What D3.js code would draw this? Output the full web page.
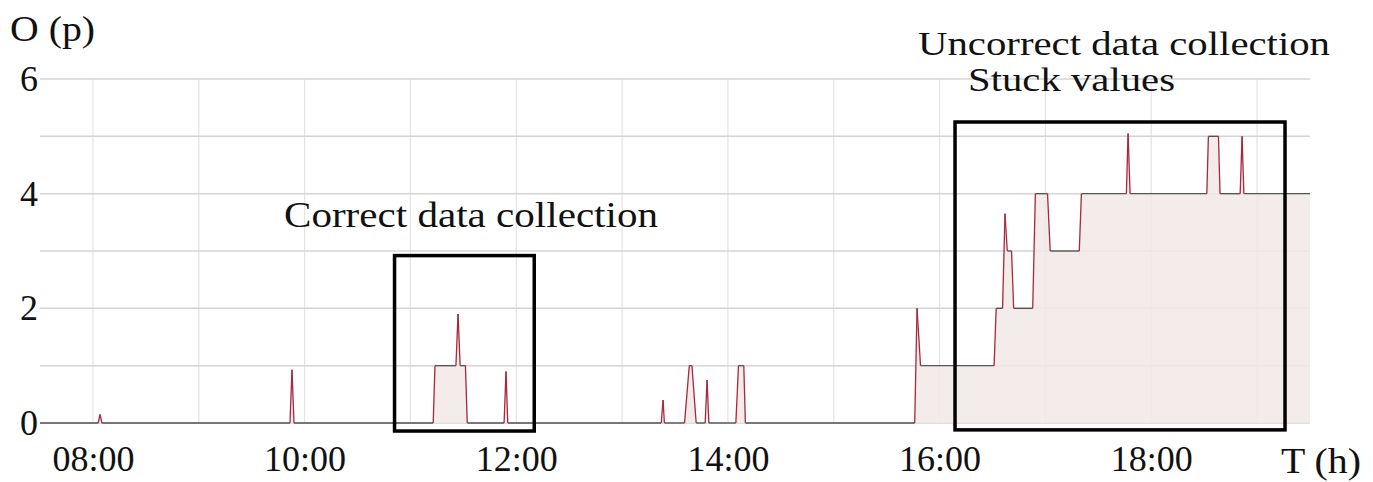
<!DOCTYPE html>
<html>
<head>
<meta charset="utf-8">
<script src="https://cdn.jsdelivr.net/npm/d3@7"></script>
<style>
  html, body { margin: 0; padding: 0; background: #ffffff; }
  svg { display: block; }
  text { font-family: "Liberation Serif", "Times New Roman", serif; fill: #111; }
</style>
</head>
<body>
<svg id="chart" width="1373" height="482"></svg>
<script>
// ---- data (time in decimal hours, value = occupancy in persons) ----
const hours = [7.5, 8.05, 8.067, 8.085, 9.862, 9.881, 9.9, 11.215, 11.232, 11.43, 11.45, 11.47, 11.52, 11.537,
  11.885, 11.903, 11.92, 13.37, 13.387, 13.40, 13.59, 13.635, 13.66, 13.70, 13.785, 13.803, 13.82,
  14.075, 14.10, 14.15, 14.165, 15.765, 15.787, 15.82, 16.515, 16.535, 16.595, 16.618, 16.64, 16.68, 16.70,
  16.88, 16.905, 17.02, 17.045, 17.32, 17.34, 17.765, 17.781, 17.80, 18.525, 18.54, 18.635, 18.65,
  18.84, 18.858, 18.875, 19.5];
const occupancy = [0, 0, 0.15, 0, 0, 0.93, 0, 0, 1, 1, 1.9, 1, 1, 0,
  0, 0.9, 0, 0, 0.4, 0, 0, 1, 1, 0, 0, 0.75, 0,
  0, 1, 1, 0, 0, 2, 1, 1, 2, 2, 3.65, 3, 3, 2,
  2, 4, 4, 3, 3, 4, 4, 5.05, 4, 4, 5, 5, 4,
  4, 5, 4, 4];

const xTickValues = [8, 10, 12, 14, 16, 18];
const xTickLabels = ["08:00", "10:00", "12:00", "14:00", "16:00", "18:00"];
const yTickValues = [0, 2, 4, 6];
const yTickLabels = ["0", "2", "4", "6"];

const boxCorrect = { t0: 10.85, t1: 12.17, v0: -0.14, v1: 2.92 };
const boxStuck = { t0: 16.146, t1: 19.264, v0: -0.12, v1: 5.25 };

// ---- drawing ----
const svg = d3.select("#chart");
const x = d3.scaleLinear().domain([7.5, 19.5]).range([40, 1310]);
const y = d3.scaleLinear().domain([0, 6]).range([423, 79]);

const pts = hours.map((h, i) => ({ h, v: occupancy[i] }));

// grid
svg.append("g").selectAll("line").data(d3.range(8, 20)).join("line")
  .attr("x1", d => x(d)).attr("x2", d => x(d))
  .attr("y1", y(6)).attr("y2", y(0))
  .attr("stroke", "#e3e3e3").attr("stroke-width", 1.2);
svg.append("g").selectAll("line").data(d3.range(0, 7)).join("line")
  .attr("x1", x(7.5)).attr("x2", x(19.5))
  .attr("y1", d => y(d)).attr("y2", d => y(d))
  .attr("stroke", "#d4d4d4").attr("stroke-width", 1.5);

// area
svg.append("path").datum(pts)
  .attr("d", d3.area().x(d => x(d.h)).y0(y(0)).y1(d => y(d.v)))
  .attr("fill", "#f2e9e6").attr("opacity", 0.85);

// line segments: flat parts grey, changing parts red
const segs = d3.pairs(pts);
svg.append("g").selectAll("path").data(segs).join("path")
  .attr("d", d => d3.line().x(p => x(p.h)).y(p => y(p.v))(d))
  .attr("fill", "none")
  .attr("stroke", d => d[0].v === d[1].v ? "#555555" : "#a8283c")
  .attr("stroke-width", d => d[0].v === d[1].v ? 1.4 : 1.3);

// boxes
[boxCorrect, boxStuck].forEach(b => {
  svg.append("rect")
    .attr("x", x(b.t0)).attr("y", y(b.v1))
    .attr("width", x(b.t1) - x(b.t0)).attr("height", y(b.v0) - y(b.v1))
    .attr("fill", "none").attr("stroke", "#000").attr("stroke-width", 3.5);
});

// axes
const xAxis = svg.append("g").attr("transform", `translate(0,${y(0)})`)
  .call(d3.axisBottom(x).tickValues(xTickValues).tickFormat((d, i) => xTickLabels[i]).tickSize(0).tickPadding(22));
xAxis.select(".domain").remove();
xAxis.selectAll("text").attr("font-size", 36).attr("font-family", "Liberation Serif").attr("fill", "#111");

const yAxis = svg.append("g").attr("transform", `translate(40,0)`)
  .call(d3.axisLeft(y).tickValues(yTickValues).tickFormat((d, i) => yTickLabels[i]).tickSize(0).tickPadding(2));
yAxis.select(".domain").remove();
yAxis.selectAll("text").attr("font-size", 36).attr("font-family", "Liberation Serif").attr("fill", "#111");

// titles & annotations
function label(txt, xx, yy, len, fs) {
  svg.append("text").attr("x", xx).attr("y", yy).attr("font-size", fs)
    .attr("textLength", len).attr("lengthAdjust", "spacingAndGlyphs").text(txt);
}
label("O (p)", 10, 41, 85, 36);
label("T (h)", 1281, 473, 80, 36);
label("Uncorrect data collection", 918, 55, 412, 34);
label("Stuck values", 968, 91, 207, 34);
label("Correct data collection", 284, 227, 374, 36);
</script>
</body>
</html>
